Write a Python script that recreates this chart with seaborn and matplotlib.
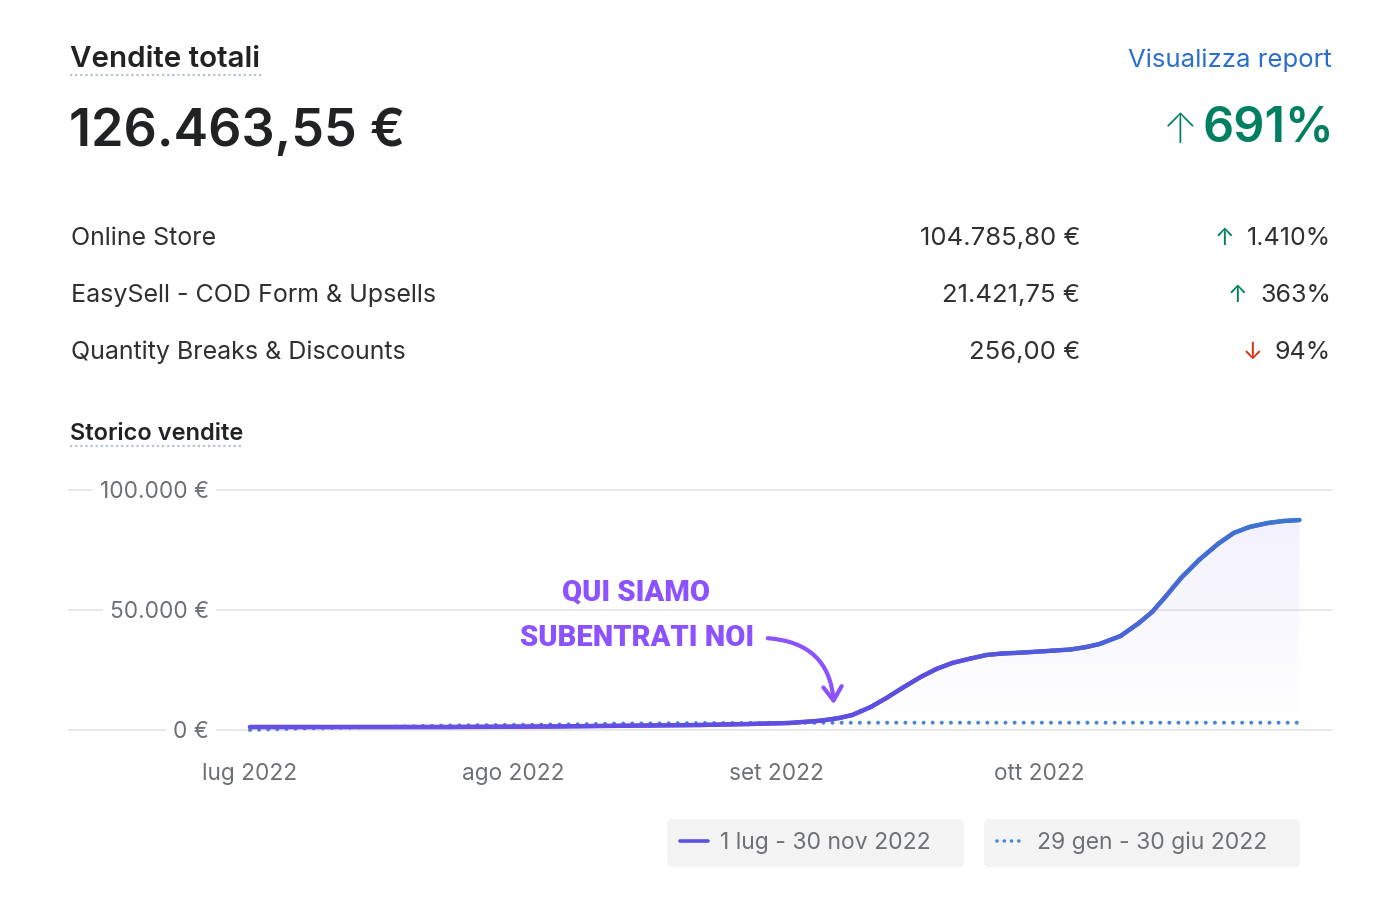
import numpy as np
import pandas as pd
import matplotlib
matplotlib.use("Agg")
import matplotlib.pyplot as plt
import seaborn as sns
from matplotlib.collections import LineCollection
from matplotlib.colors import LinearSegmentedColormap
from matplotlib.lines import Line2D

# ---------------- data ----------------
month_labels = ["lug 2022", "ago 2022", "set 2022", "ott 2022"]
month_pos = [0, 1, 2, 3]

# current period (1 lug - 30 nov 2022), x in months since 1 lug
cur_x = [0.00, 0.38, 0.76, 1.14, 1.52, 1.71, 1.90, 2.05, 2.17, 2.24, 2.29, 2.36,
         2.42, 2.48, 2.55, 2.61, 2.67, 2.74, 2.80, 2.86, 2.93, 3.05, 3.12, 3.18,
         3.23, 3.31, 3.38, 3.43, 3.48, 3.54, 3.61, 3.68, 3.74, 3.80, 3.87, 3.93, 3.99]
cur_y = [1250, 1250, 1250, 1460, 1875, 2080, 2500, 2920, 3875, 5000, 6250, 9580,
         13330, 17500, 22080, 25420, 27920, 29790, 31250, 31875, 32210, 33040, 33540, 34580,
         35830, 39170, 44580, 49170, 55420, 63330, 71000, 77500, 82080, 84580, 86250, 87080, 87500]

# comparison period (29 gen - 30 giu 2022)
prev_x = [0.00, 0.19, 0.38, 0.57, 0.76, 0.95, 1.18, 1.41, 1.71, 2.09, 2.50, 3.00, 3.50, 3.99]
prev_y = [0, 600, 1000, 1450, 1900, 2100, 2300, 2700, 2900, 3000, 3050, 3050, 3050, 3050]

y_ticks = [0, 50000, 100000]
y_tick_labels = ["0 €", "50.000 €", "100.000 €"]

channels = ["Online Store", "EasySell - COD Form & Upsells", "Quantity Breaks & Discounts"]
channel_sales = ["104.785,80 €", "21.421,75 €", "256,00 €"]
channel_change = ["1.410%", "363%", "94%"]
channel_up = [True, True, False]

total_sales = "126.463,55 €"
total_change = "691%"
legend_labels = ["1 lug - 30 nov 2022", "29 gen - 30 giu 2022"]

# ---------------- style ----------------
sns.set_theme(style="white")
plt.rcParams['font.family'] = ['Inter', 'DejaVu Sans']

DARK = '#202223'
TEXT = '#303030'
GREY = '#6d7175'
GREEN = '#008060'
RED = '#d82c0d'
BLUE_LINK = '#2c6ecb'
DOT_BLUE = '#4a87d0'
PURPLE = '#8c52ff'

W, H = 1400, 900
fig = plt.figure(figsize=(14, 9), dpi=100)
fig.patch.set_facecolor('white')


def fx(px):
    return px / W


def fy(py):
    return 1 - py / H


# ---------------- header ----------------
fig.text(fx(70), fy(67), "Vendite totali", fontsize=21.3, fontweight='semibold', color=DARK)
fig.add_artist(Line2D([fx(70), fx(263)], [fy(75), fy(75)], color='#b9c1cb', lw=1.6,
                      linestyle=(0, (1, 1.3))))
fig.text(fx(69), fy(146), total_sales, fontsize=37.5, fontweight='semibold', color=DARK)
fig.text(fx(1332), fy(67), "Visualizza report", fontsize=18.5, color=BLUE_LINK, ha='right')
big = fig.text(fx(1334), fy(141), total_change, fontsize=35, fontweight='semibold',
               color=GREEN, ha='right')

# ---------------- axes ----------------
ax = fig.add_axes([fx(68), fy(740), fx(1333) - fx(68), (740 - 480) / H])
ax.set_facecolor('white')
ax.annotate("↑", xy=(0, 0), xycoords=big, xytext=(-3, 0), textcoords='offset points',
            ha='right', va='bottom', fontsize=30, fontweight='light', color=GREEN,
            annotation_clip=False)

for i, (name, val, chg, up) in enumerate(zip(channels, channel_sales, channel_change, channel_up)):
    yy = 245 + 57 * i
    fig.text(fx(71), fy(yy), name, fontsize=18, color=TEXT)
    fig.text(fx(1080), fy(yy), val, fontsize=18.5, color=TEXT, ha='right')
    t = fig.text(fx(1331), fy(yy), chg, fontsize=18, color=TEXT, ha='right')
    ax.annotate("↑" if up else "↓", xy=(0, 0), xycoords=t, xytext=(-9, 0),
                textcoords='offset points', ha='right', va='bottom', fontsize=17,
                color=GREEN if up else RED, annotation_clip=False)

fig.text(fx(70), fy(440), "Storico vendite", fontsize=17, fontweight='semibold', color=DARK)
fig.add_artist(Line2D([fx(70), fx(243)], [fy(446), fy(446)], color='#b9c1cb', lw=1.6,
                      linestyle=(0, (1, 1.3))))

# fill with vertical gradient under current line
fill = ax.fill_between(cur_x, 0, cur_y, color='none', lw=0)
grad = np.linspace(0, 1, 256).reshape(-1, 1)
rgba = np.zeros((256, 1, 4))
rgba[..., 0] = 0x6b / 255
rgba[..., 1] = 0x4f / 255
rgba[..., 2] = 0xe8 / 255
rgba[..., 3] = 0.08 * grad
img = ax.imshow(rgba, extent=[min(cur_x), max(cur_x), 0, max(cur_y)], origin='lower',
                aspect='auto', zorder=1)
img.set_clip_path(fill.get_paths()[0], transform=ax.transData)

# comparison dotted line
sns.lineplot(x=prev_x, y=prev_y, ax=ax, color=DOT_BLUE, lw=2.9,
             linestyle=(0, (0.01, 2.25)), dash_capstyle='round', zorder=3)

# current line (gradient)
sns.lineplot(x=cur_x, y=cur_y, ax=ax, color='#5b4fe0', lw=3.0, zorder=4)
cmap = LinearSegmentedColormap.from_list('g', [(0, '#6b4fe8'), (0.65, '#5b4fe0'), (1, '#3a78d0')])
pts = np.column_stack([cur_x, cur_y])
segs = np.stack([pts[:-1], pts[1:]], axis=1)
tvals = (pts[:-1, 0] + pts[1:, 0]) / 2 / max(cur_x)
lc = LineCollection(segs, colors=cmap(tvals), linewidths=3.2, capstyle='round',
                    joinstyle='round', zorder=5)
ax.add_collection(lc)

# annotation
ann_kw = dict(fontsize=21, fontweight='heavy', color=PURPLE, ha='center', va='center',
              family=['Roboto', 'DejaVu Sans'])
fig.text(fx(636), fy(592), "QUI SIAMO", **ann_kw)
fig.text(fx(637), fy(638), "SUBENTRATI NOI", **ann_kw)
ax.annotate("", xy=((834 - 250) / 263, (730 - 707) * 50000 / 120),
            xytext=((765 - 250) / 263, (730 - 638) * 50000 / 120),
            arrowprops=dict(arrowstyle='->,head_length=0.45,head_width=0.3',
                            connectionstyle='arc3,rad=-0.45', lw=3, color=PURPLE,
                            mutation_scale=22, capstyle='round', joinstyle='round'),
            annotation_clip=False, zorder=6)

# axes styling
ax.set_xlim((68 - 250) / 263, (1333 - 250) / 263)
ax.set_ylim(-(740 - 730) * 50000 / 120, (730 - 480) * 50000 / 120)
ax.set_xticks(month_pos, month_labels)
ax.set_yticks(y_ticks, y_tick_labels)
ax.set_xlabel("")
ax.set_ylabel("")
for s in ax.spines.values():
    s.set_visible(False)
ax.yaxis.grid(True, color='#e6e6e6', lw=1.3)
ax.xaxis.grid(False)
ax.tick_params(axis='y', length=0, pad=-101.5, labelsize=16.3, labelcolor=GREY)
ax.tick_params(axis='x', length=0, pad=16.5, labelsize=16.3, labelcolor=GREY)
for lab in ax.get_yticklabels():
    lab.set_bbox(dict(boxstyle='square,pad=0.3', fc='white', ec='none'))

# legend
h1 = Line2D([], [], color='#5b52e2', lw=2.6, solid_capstyle='round')
h2 = Line2D([], [], color=DOT_BLUE, lw=2.6, linestyle=(0, (0.01, 2.0)), dash_capstyle='round')
leg_kw = dict(loc='center', frameon=True, facecolor='#f3f3f3', edgecolor='none',
              fancybox=True, fontsize=16.5, labelcolor=GREY, handlelength=1.25,
              handletextpad=0.5, borderpad=0.55, borderaxespad=0, framealpha=1,
              mode='expand')
leg1 = fig.legend([h1], [legend_labels[0]],
                  bbox_to_anchor=(fx(667), fy(866), 297 / W, 46 / H), **leg_kw)
leg2 = fig.legend([h2], [legend_labels[1]],
                  bbox_to_anchor=(fx(984), fy(866), 316 / W, 46 / H), **leg_kw)
for lg in (leg1, leg2):
    lg.get_frame().set_boxstyle('round,pad=0,rounding_size=0.25')

fig.savefig("out.png", dpi=100, facecolor='white')
